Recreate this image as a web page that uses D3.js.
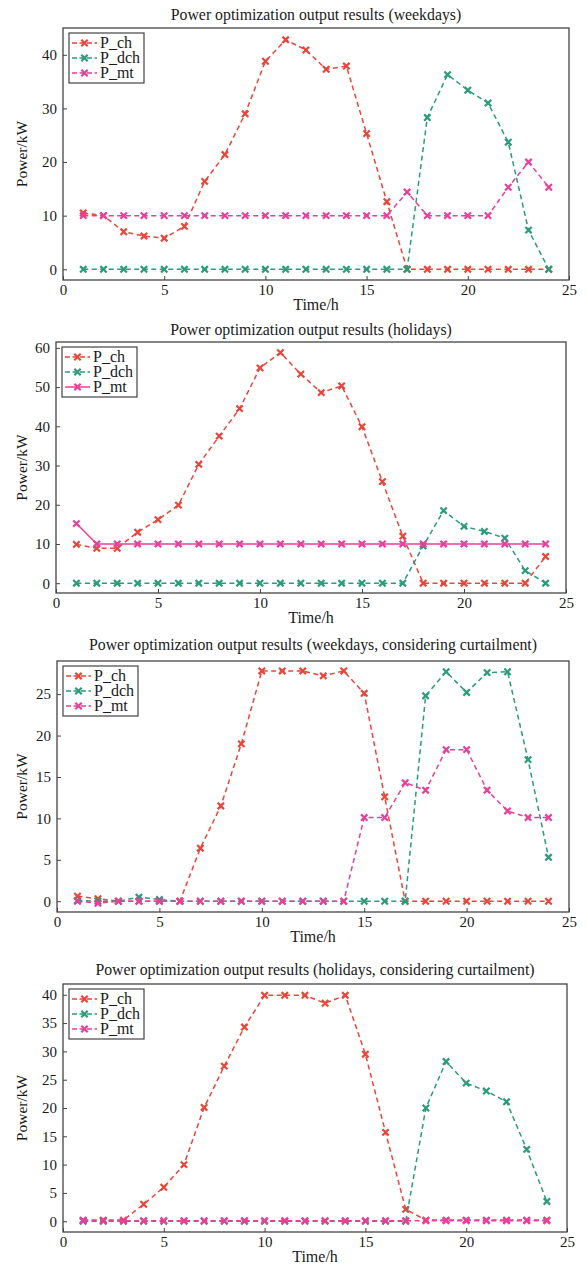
<!DOCTYPE html>
<html>
<head>
<meta charset="utf-8">
<script src="https://cdn.jsdelivr.net/npm/d3@7"></script>
<style>
  body { margin: 0; background: #fff; }
  svg text { font-family: "Liberation Serif", "DejaVu Serif", serif; fill: #1a1a1a; }
</style>
</head>
<body>
<div class="container"></div>
<script>
// data
const hours = [1,2,3,4,5,6,7,8,9,10,11,12,13,14,15,16,17,18,19,20,21,22,23,24];
const seriesNames = ['P_ch', 'P_dch', 'P_mt'];
const titles = [
  'Power optimization output results (weekdays)',
  'Power optimization output results (holidays)',
  'Power optimization output results (weekdays, considering curtailment)',
  'Power optimization output results (holidays, considering curtailment)'
];

const weekdayCh  = [10.5,10,7,6.2,5.8,8,16.4,21.4,29,38.8,42.8,40.9,37.3,37.9,25.3,12.6,0,0,0,0,0,0,0,0];
const weekdayDch = [0,0,0,0,0,0,0,0,0,0,0,0,0,0,0,0,0,28.3,36.3,33.4,31,23.7,7.3,0];
const weekdayMt  = [10,10,10,10,10,10,10,10,10,10,10,10,10,10,10,10,14.4,10,10,10,10,15.3,20,15.3];

const holidayCh  = [9.9,8.9,8.9,13,16.2,19.9,30.3,37.5,44.5,54.9,58.8,53.3,48.6,50.3,39.9,25.9,12,0,0,0,0,0,0,6.8];
const holidayDch = [0,0,0,0,0,0,0,0,0,0,0,0,0,0,0,0,0,9.5,18.5,14.5,13.2,11.5,3.2,0];
const holidayMt  = [15.2,10,10,10,10,10,10,10,10,10,10,10,10,10,10,10,10,10,10,10,10,10,10,10];

const weekdayCurtCh  = [0.6,0.3,0,0,0,0,6.4,11.5,19,27.8,27.8,27.8,27.2,27.8,25.1,12.6,0,0,0,0,0,0,0,0];
const weekdayCurtDch = [0.1,0,0,0.5,0.2,0,0,0,0,0,0,0,0,0,0,0,0,24.8,27.7,25.2,27.6,27.7,17.1,5.3];
const weekdayCurtMt  = [0,-0.25,0,0,0,0,0,0,0,0,0,0,0,0,10.1,10.1,14.3,13.4,18.3,18.3,13.4,10.9,10.1,10.1];

const holidayCurtCh  = [0.2,0.2,0.2,3,6,10,20.1,27.4,34.3,39.9,39.9,39.9,38.5,39.9,29.5,15.7,2.1,0.2,0.2,0.2,0.2,0.2,0.2,0.2];
const holidayCurtDch = [0,0,0,0,0,0,0,0,0,0,0,0,0,0,0,0,0,20,28.2,24.4,23,21.1,12.7,3.5];
const holidayCurtMt  = [0.1,0.1,0.1,0.1,0.1,0.1,0.1,0.1,0.1,0.1,0.1,0.1,0.1,0.1,0.1,0.1,0.1,0.1,0.1,0.1,0.1,0.1,0.1,0.1];

const xTicks = [0,5,10,15,20,25];
const yTicks1 = [0,10,20,30,40];
const yTicks2 = [0,10,20,30,40,50,60];
const yTicks3 = [0,5,10,15,20,25];
const yTicks4 = [0,5,10,15,20,25,30,35,40];

const panels = [
  {title: titles[0], series: [weekdayCh, weekdayDch, weekdayMt], yTicks: yTicks1, yDomain: [-2, 45],
   box: {l: 63, t: 28, r: 569, b: 280}, titleY: 20, mtSolid: false},
  {title: titles[1], series: [holidayCh, holidayDch, holidayMt], yTicks: yTicks2, yDomain: [-2.5, 61.5],
   box: {l: 56, t: 342, r: 566, b: 593}, titleY: 335, mtSolid: true},
  {title: titles[2], series: [weekdayCurtCh, weekdayCurtDch, weekdayCurtMt], yTicks: yTicks3, yDomain: [-1.3, 29],
   box: {l: 57, t: 661, r: 569, b: 912}, titleY: 650, mtSolid: false},
  {title: titles[3], series: [holidayCurtCh, holidayCurtDch, holidayCurtMt], yTicks: yTicks4, yDomain: [-1.9, 41.9],
   box: {l: 63, t: 984, r: 567, b: 1232}, titleY: 975, mtSolid: false}
];

const colors = ['#e8463a', '#2b9b7a', '#e6409a'];

const svg = d3.select('.container')
  .append('svg')
  .attr('width', 587)
  .attr('height', 1266);

const marker = d3.symbol().type(d3.symbolX).size(28);

panels.forEach(function(p){
  const bx = p.box;
  const x = d3.scaleLinear().domain([0, 25]).range([bx.l, bx.r]);
  const y = d3.scaleLinear().domain(p.yDomain).range([bx.b, bx.t]);
  const g = svg.append('g');

  // title
  g.append('text')
    .attr('x', (bx.l + bx.r) / 2)
    .attr('y', p.titleY)
    .attr('text-anchor', 'middle')
    .style('font-size', '15.8px')
    .text(p.title);

  // axes, ticks pointing inward
  const xAxis = d3.axisBottom(x).tickValues(xTicks).tickSizeInner(-4).tickSizeOuter(0).tickPadding(4);
  const yAxis = d3.axisLeft(y).tickValues(p.yTicks).tickSizeInner(-4).tickSizeOuter(0).tickPadding(6);

  const gx = g.append('g').attr('transform', `translate(0,${bx.b})`).call(xAxis);
  const gy = g.append('g').attr('transform', `translate(${bx.l},0)`).call(yAxis);
  [gx, gy].forEach(function(a){
    a.select('.domain').remove();
    a.selectAll('.tick line').attr('stroke', '#444');
    a.selectAll('.tick text')
      .style('font-size', '15px')
      .style('font-family', '"Liberation Serif", serif')
      .attr('fill', '#1a1a1a');
  });

  // frame
  g.append('rect')
    .attr('x', bx.l).attr('y', bx.t)
    .attr('width', bx.r - bx.l).attr('height', bx.b - bx.t)
    .attr('fill', 'none')
    .attr('stroke', '#444')
    .attr('stroke-width', 1.3);

  // axis labels
  g.append('text')
    .attr('x', (bx.l + bx.r) / 2)
    .attr('y', bx.b + 30)
    .attr('text-anchor', 'middle')
    .style('font-size', '16px')
    .text('Time/h');

  g.append('text')
    .attr('transform', `translate(27,${(bx.t + bx.b) / 2}) rotate(-90)`)
    .attr('text-anchor', 'middle')
    .style('font-size', '15.5px')
    .text('Power/kW');

  // series
  const line = d3.line()
    .x(function(d, i){ return x(hours[i]); })
    .y(function(d){ return y(d); });

  p.series.forEach(function(vals, si){
    const solid = si === 2 && p.mtSolid;
    g.append('path')
      .datum(vals)
      .attr('d', line)
      .attr('fill', 'none')
      .attr('stroke', colors[si])
      .attr('stroke-width', 1.5)
      .attr('stroke-dasharray', solid ? null : '5,3.5');

    g.selectAll('.m' + si)
      .data(vals)
      .enter()
      .append('path')
      .attr('class', 'm' + si)
      .attr('d', marker)
      .attr('transform', function(d, i){ return `translate(${x(hours[i])},${y(d)})`; })
      .attr('fill', 'none')
      .attr('stroke', colors[si])
      .attr('stroke-width', 2.2);
  });

  // legend
  const lg = g.append('g').attr('transform', `translate(${bx.l + 6},${bx.t + 5})`);
  lg.append('rect')
    .attr('width', 75).attr('height', 50)
    .attr('fill', '#fff')
    .attr('stroke', '#444')
    .attr('stroke-width', 1.2);

  seriesNames.forEach(function(name, si){
    const ry = 10 + si * 15;
    const solid = si === 2 && p.mtSolid;
    lg.append('line')
      .attr('x1', 3).attr('x2', 28)
      .attr('y1', ry).attr('y2', ry)
      .attr('stroke', colors[si])
      .attr('stroke-width', 1.5)
      .attr('stroke-dasharray', solid ? null : '5,2.5');
    lg.append('path')
      .attr('d', marker)
      .attr('transform', `translate(15.5,${ry})`)
      .attr('fill', 'none')
      .attr('stroke', colors[si])
      .attr('stroke-width', 2.2);
    lg.append('text')
      .attr('x', 31)
      .attr('y', ry + 5)
      .style('font-size', '16px')
      .text(name);
  });
});
</script>
</body>
</html>
